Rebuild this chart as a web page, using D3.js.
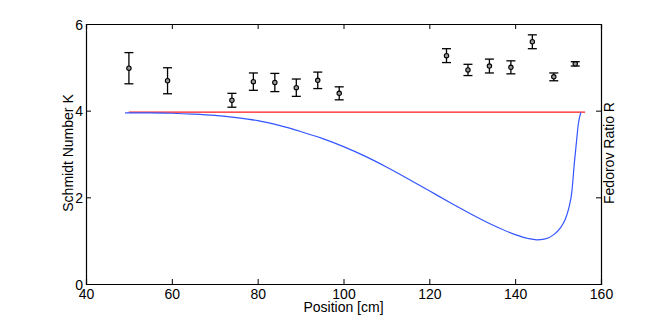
<!DOCTYPE html>
<html><head><meta charset="utf-8">
<script src="https://cdn.jsdelivr.net/npm/d3@7"></script>
<style>body{margin:0;background:#fff}svg{display:block}text{font-family:"Liberation Sans",Arial,sans-serif;fill:#000}</style>
</head><body>
<script>
// Measured points (position, Schmidt number K, error)
const positions = [50, 59, 74, 79, 84, 89, 94, 99, 124, 129, 134, 139, 144, 149, 154];
const kValues   = [4.98, 4.69, 4.24, 4.67, 4.65, 4.53, 4.70, 4.40, 5.27, 4.94, 5.03, 5.00, 5.59, 4.78, 5.08];
const kErrors   = [0.36, 0.30, 0.16, 0.20, 0.21, 0.20, 0.19, 0.15, 0.16, 0.13, 0.16, 0.15, 0.16, 0.09, 0.05];
// Theory line (red) and Fedorov ratio curve (blue)
const redX = [50, 156.3];
const redY = [3.965, 3.965];
const blueX = [49.1, 55, 60, 65, 70, 75, 80, 85, 90, 95, 100, 105, 110, 115, 120, 125, 130, 135, 140, 143, 145, 147, 149, 150.5, 151.7, 152.5, 153.2, 153.8, 154.3, 154.7, 155.3];
const blueY = [3.95, 3.95, 3.94, 3.92, 3.89, 3.84, 3.77, 3.66, 3.52, 3.36, 3.17, 2.95, 2.70, 2.43, 2.15, 1.87, 1.60, 1.35, 1.14, 1.05, 1.02, 1.04, 1.14, 1.29, 1.50, 1.75, 2.12, 2.80, 3.30, 3.68, 3.96];
const xTicks = [40, 60, 80, 100, 120, 140, 160];
const yTicks = [0, 2, 4, 6];

(function () {
const W = 664, H = 320;
const m = {l: 86, r: 63, t: 24, b: 36};
const svg = d3.select("body").append("svg").attr("width", W).attr("height", H);
const x = d3.scaleLinear().domain([40, 160]).range([m.l, W - m.r]);
const y = d3.scaleLinear().domain([0, 6]).range([H - m.b, m.t]);

const g = svg.append("g");
const tickLen = 5;
const axB = g.append("g").attr("transform", `translate(0,${y(0)})`)
  .call(d3.axisBottom(x).tickValues(xTicks).tickSize(-tickLen).tickPadding(5).tickFormat(d3.format("d")));
const axT = g.append("g").attr("transform", `translate(0,${y(6)})`)
  .call(d3.axisTop(x).tickValues(xTicks).tickSize(-tickLen).tickFormat(""));
const axL = g.append("g").attr("transform", `translate(${x(40)},0)`)
  .call(d3.axisLeft(y).tickValues(yTicks).tickSize(-tickLen).tickPadding(3).tickFormat(d3.format("d")));
const axR = g.append("g").attr("transform", `translate(${x(160)},0)`)
  .call(d3.axisRight(y).tickValues(yTicks).tickSize(-tickLen).tickFormat(""));
[axB, axT, axL, axR].forEach(a => {
  a.select(".domain").attr("stroke", "#000").attr("stroke-width", 1.2);
  a.selectAll(".tick line").attr("stroke", "#000").attr("stroke-width", 1);
  a.selectAll("text").style("font-size", "14px").attr("fill", "#000");
});
axL.selectAll("text").attr("dy", "0.36em");

const lineGen = d3.line().x(d => x(d[0])).y(d => y(d[1]));
g.append("path").datum(redX.map((v, i) => [v, redY[i]]))
  .attr("d", lineGen).attr("fill", "none").attr("stroke", "#ff1a1a").attr("stroke-width", 1.3);
g.append("path").datum(blueX.map((v, i) => [v, blueY[i]]))
  .attr("d", d3.line().x(d => x(d[0])).y(d => y(d[1])).curve(d3.curveMonotoneX))
  .attr("fill", "none").attr("stroke", "#3355ff").attr("stroke-width", 1.2);

const pts = positions.map((p, i) => ({p, k: kValues[i], e: kErrors[i]}));
const eb = g.append("g").attr("stroke", "#000").attr("stroke-width", 1.3);
pts.forEach(d => {
  eb.append("line").attr("x1", x(d.p)).attr("x2", x(d.p)).attr("y1", y(d.k - d.e)).attr("y2", y(d.k + d.e));
  [d.k - d.e, d.k + d.e].forEach(v =>
    eb.append("line").attr("x1", x(d.p) - 4.5).attr("x2", x(d.p) + 4.5).attr("y1", y(v)).attr("y2", y(v)));
});
g.append("g").selectAll("circle").data(pts).join("circle")
  .attr("cx", d => x(d.p)).attr("cy", d => y(d.k)).attr("r", 2.2)
  .attr("fill", "#999").attr("stroke", "#000").attr("stroke-width", 1.1);

svg.append("text").attr("x", (x(40) + x(160)) / 2).attr("y", 312).attr("text-anchor", "middle")
  .style("font-size", "14px").text("Position [cm]");
svg.append("text").attr("transform", `translate(73,${(y(0) + y(6)) / 2 - 1}) rotate(-90)`).attr("text-anchor", "middle")
  .style("font-size", "14px").text("Schmidt Number K");
svg.append("text").attr("transform", `translate(614,${(y(0) + y(6)) / 2 - 1}) rotate(-90)`).attr("text-anchor", "middle")
  .style("font-size", "14px").text("Fedorov Ratio R");
})();
</script>
</body></html>
